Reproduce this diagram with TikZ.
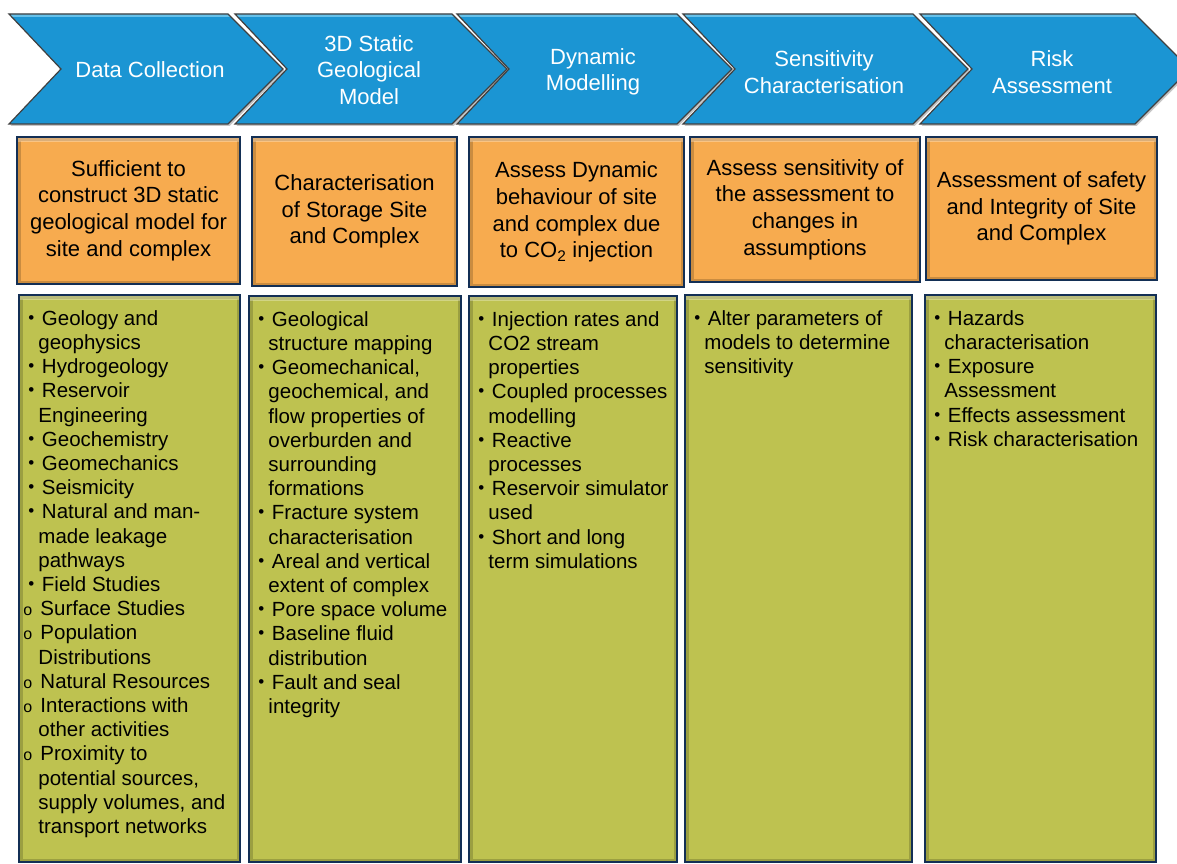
\documentclass[tikz,border=0pt]{standalone}
\usepackage{fontspec}
\setmainfont{Liberation Sans}
\usetikzlibrary{positioning, shadows}

\definecolor{chevblue}{HTML}{1B95D3}
\definecolor{boxorange}{HTML}{F7AB4F}
\definecolor{boxgreen}{HTML}{BEC250}
\definecolor{boxnavy}{HTML}{132F55}

% list helpers
\newcommand{\itm}{\makebox[13.5pt][l]{\raisebox{2pt}{\fontsize{17}{17}\selectfont •}}}
\newcommand{\subitm}{\hspace*{-5pt}\makebox[17pt][l]{\fontsize{16}{16}\selectfont o}}
\newcommand{\contd}{\hspace*{10pt}}

\begin{document}
\begin{tikzpicture}[x=1pt, y=-1pt,
  chevron/.style={fill=chevblue, draw=black!75, line width=1.2pt,
    drop shadow={shadow xshift=1.5pt, shadow yshift=-2pt, opacity=0.45},
    path picture={\draw[cyan!40, opacity=0.6, line width=6pt]
      (path picture bounding box.north west) -- (path picture bounding box.north east);}},
  chevtext/.style={text=white, align=center, font=\fontsize{22}{26.5}\selectfont},
  bevel/.style={path picture={
    \draw[black, opacity=0.18, line width=7pt]
      (path picture bounding box.south west) rectangle (path picture bounding box.north east);
    \draw[white, opacity=0.3, line width=9pt]
      (path picture bounding box.north west) -- (path picture bounding box.north east);}},
  obox/.style={rectangle, fill=boxorange, draw=boxnavy, line width=1.5pt, bevel,
    inner sep=0pt, align=center, font=\fontsize{22}{26.7}\selectfont},
  gbox/.style={rectangle, fill=boxgreen, draw=boxnavy, line width=1.5pt, bevel, inner sep=0pt},
  listtext/.style={anchor=north west, align=left, inner sep=0pt,
    font=\fontsize{20.5}{24.2}\selectfont}]

\useasboundingbox (0,0) rectangle (1177,864);

% Process chevrons
\draw[chevron] (9,14) -- (228,14) -- (283,69) -- (228,124) -- (9,124) -- (61,69) -- cycle;
\draw[chevron] (235,14) -- (452,14) -- (507,69) -- (452,124) -- (235,124) -- (287,69) -- cycle;
\draw[chevron] (457,14) -- (677,14) -- (732,69) -- (677,124) -- (457,124) -- (509,69) -- cycle;
\draw[chevron] (683,14) -- (913,14) -- (968,69) -- (913,124) -- (683,124) -- (735,69) -- cycle;
\draw[chevron] (920,14) -- (1135,14) -- (1190,69) -- (1135,124) -- (920,124) -- (972,69) -- cycle;

% Chevron labels
\node[chevtext] (step1) at (150,70) {Data Collection};
\node[chevtext] (step2) at (369,70) {3D Static\\Geological\\Model};
\node[chevtext] (step3) at (593,72) {Dynamic\\Modelling};
\node[chevtext] (step4) at (824,72) {Sensitivity\\Characterisation};
\node[chevtext] (step5) at (1052,72) {Risk\\Assessment};

% Objectives (orange row)
\node[obox, minimum width=223pt, minimum height=147pt] (aim1) at (128.5,210.5)
  {Sufficient to\\construct 3D static\\geological model for\\site and complex};
\node[obox, minimum width=205pt, minimum height=149pt] (aim2) at (354.5,211.5)
  {Characterisation\\of Storage Site\\and Complex};
\node[obox, minimum width=215pt, minimum height=150pt] (aim3) at (576.5,212)
  {Assess Dynamic\\behaviour of site\\and complex due\\to CO\textsubscript{2} injection};
\node[obox, minimum width=230pt, minimum height=145pt] (aim4) at (805,209.5)
  {Assess sensitivity of\\the assessment to\\changes in\\assumptions};
\node[obox, minimum width=231pt, minimum height=143pt] (aim5) at (1041.5,208.5)
  {Assessment of safety\\and Integrity of Site\\and Complex};

% Task lists (green row)
\node[gbox, minimum width=221pt, minimum height=567pt] (task1) at (129.5,578.5) {};
\node[gbox, minimum width=212pt, minimum height=566pt] (task2) at (355,579) {};
\node[gbox, minimum width=208pt, minimum height=566pt] (task3) at (573,579) {};
\node[gbox, minimum width=227pt, minimum height=567pt] (task4) at (798.5,578.5) {};
\node[gbox, minimum width=231pt, minimum height=567pt] (task5) at (1040.5,578.5) {};

\node[listtext] (list1) at ([shift={(10,16)}]task1.north west) {%
\itm Geology and\\
\contd geophysics\\
\itm Hydrogeology\\
\itm Reservoir\\
\contd Engineering\\
\itm Geochemistry\\
\itm Geomechanics\\
\itm Seismicity\\
\itm Natural and man-\\
\contd made leakage\\
\contd pathways\\
\itm Field Studies\\
\subitm Surface Studies\\
\subitm Population\\
\contd Distributions\\
\subitm Natural Resources\\
\subitm Interactions with\\
\contd other activities\\
\subitm Proximity to\\
\contd potential sources,\\
\contd supply volumes, and\\
\contd transport networks};

\node[listtext] (list2) at ([shift={(10,16)}]task2.north west) {%
\itm Geological\\
\contd structure mapping\\
\itm Geomechanical,\\
\contd geochemical, and\\
\contd flow properties of\\
\contd overburden and\\
\contd surrounding\\
\contd formations\\
\itm Fracture system\\
\contd characterisation\\
\itm Areal and vertical\\
\contd extent of complex\\
\itm Pore space volume\\
\itm Baseline fluid\\
\contd distribution\\
\itm Fault and seal\\
\contd integrity};

\node[listtext] (list3) at ([shift={(10,16)}]task3.north west) {%
\itm Injection rates and\\
\contd CO2 stream\\
\contd properties\\
\itm Coupled processes\\
\contd modelling\\
\itm Reactive\\
\contd processes\\
\itm Reservoir simulator\\
\contd used\\
\itm Short and long\\
\contd term simulations};

\node[listtext] (list4) at ([shift={(10,16)}]task4.north west) {%
\itm Alter parameters of\\
\contd models to determine\\
\contd sensitivity};

\node[listtext] (list5) at ([shift={(10,16)}]task5.north west) {%
\itm Hazards\\
\contd characterisation\\
\itm Exposure\\
\contd Assessment\\
\itm Effects assessment\\
\itm Risk characterisation};

\end{tikzpicture}
\end{document}
